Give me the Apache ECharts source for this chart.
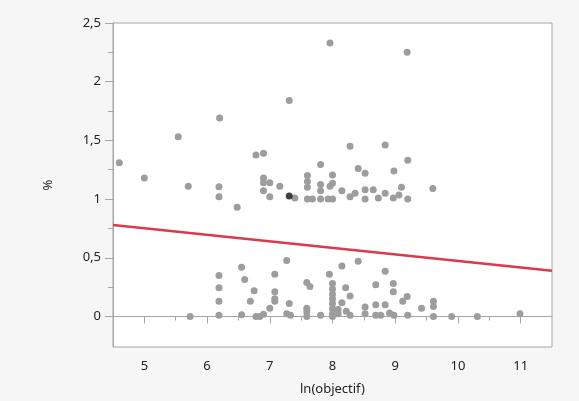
<!DOCTYPE html>
<html>
<head>
<meta charset="utf-8">
<script src="https://cdn.jsdelivr.net/npm/echarts@6/dist/echarts.min.js"></script>
<style>
html, body { margin: 0; padding: 0; background: #f6f6f6; }
#chart { width: 579px; height: 401px; }
</style>
</head>
<body>
<div id="chart"></div>
<script>
// gray points [ln(objectif), %]
var points = [
    [4.6,1.31],[5.0,1.18],[5.54,1.53],[5.70,1.11],[6.2,1.69],[6.19,1.105],[6.19,1.02],[6.48,0.93],
    [6.78,1.375],[6.9,1.39],[6.9,1.18],[6.9,1.14],[7.0,1.14],[6.9,1.07],[7.0,1.02],[7.16,1.11],
    [7.31,1.84],[7.4,1.01],
    [7.6,1.2],[7.6,1.15],[7.6,1.10],[7.6,1.0],[7.68,1.0],
    [7.81,1.295],[7.81,1.125],[7.81,1.07],[7.81,1.0],[7.93,1.0],[7.96,1.11],[8.0,1.205],[8.0,1.135],[8.0,1.0],
    [7.96,2.33],[8.15,1.07],[8.28,1.02],[8.36,1.05],[8.28,1.45],[8.41,1.26],[8.52,1.22],[8.52,1.08],[8.52,1.0],
    [8.65,1.08],[8.73,1.01],[8.84,1.05],[8.84,1.46],[8.98,1.24],[8.97,1.01],[9.06,1.035],[9.1,1.10],
    [9.2,1.0],[9.2,1.33],[9.19,2.25],[9.6,1.09],
    [5.73,0],[6.19,0.35],[6.19,0.245],[6.19,0.13],[6.19,0.01],[6.55,0.42],[6.6,0.315],[6.75,0.22],
    [6.69,0.13],[6.55,0.015],[6.78,0],[6.84,0],[6.9,0.02],[7.0,0.07],[7.08,0.36],[7.08,0.21],
    [7.08,0.15],[7.08,0.13],[7.27,0.476],[7.31,0.11],[7.27,0.024],[7.33,0.01],[7.59,0.29],[7.64,0.256],
    [7.59,0.07],[7.59,0.04],[7.59,0],
    [7.81,0.01],[7.95,0.36],[8.0,0.28],[8.0,0.235],[8.0,0.19],[8.0,0.15],[8.0,0.11],[8.0,0.066],
    [8.0,0.024],[8.0,0],
    [8.15,0.43],[8.41,0.47],[8.21,0.245],[8.28,0.174],[8.15,0.117],[8.09,0.06],[8.09,0.024],[8.22,0.044],
    [8.28,0.01],[8.52,0.08],[8.52,0.024],[8.69,0.27],[8.69,0.10],[8.69,0.01],[8.77,0.01],[8.84,0.385],
    [8.84,0.10],[8.91,0.03],[8.98,0.01],[8.97,0.28],[8.97,0.21],[9.12,0.13],[9.19,0.17],[9.2,0.01],
    [9.42,0.07],[9.61,0.13],[9.61,0.086],[9.61,0],[9.9,0],[10.31,0],[10.99,0.024]
];
// highlighted point
var selected = [[7.31,1.027]];

// fit line ends
var fitX = [4.5, 11.5];
var fitY = [0.78, 0.39];

var xTicks = [5, 6, 7, 8, 9, 10, 11];
var xMinor = [5.5, 6.5, 7.5, 8.5, 9.5, 10.5];
var yTicks = [0, 0.5, 1, 1.5, 2, 2.5];
var yMinor = [0.25, 0.75, 1.25, 1.75, 2.25];

var fitData = fitX.map(function (x, i) { return [x, fitY[i]]; });

var chart = echarts.init(document.getElementById('chart'));
var labelFont = { color: '#222', fontSize: 13, fontFamily: 'Noto Sans' };

chart.setOption({
    backgroundColor: '#f6f6f6',
    animation: false,
    grid: {
        left: 113, top: 23, right: 27, bottom: 51,
        show: true,
        backgroundColor: '#fff',
        borderColor: '#a6a6a6',
        borderWidth: 1
    },
    xAxis: [
        {
            type: 'value', min: 4.5, max: 11.5,
            name: 'ln(objectif)', nameLocation: 'middle', nameGap: 36,
            nameTextStyle: labelFont,
            axisLine: { show: true, lineStyle: { color: '#a6a6a6' } },
            axisTick: { show: true, length: 7, customValues: xTicks, lineStyle: { color: '#a6a6a6' } },
            axisLabel: Object.assign({ customValues: xTicks, margin: 13 }, labelFont),
            splitLine: { show: false }
        },
        {
            type: 'value', min: 4.5, max: 11.5, position: 'bottom',
            axisLine: { show: false },
            axisTick: { show: true, length: 4, customValues: xMinor, lineStyle: { color: '#a6a6a6' } },
            axisLabel: { show: false },
            splitLine: { show: false }
        }
    ],
    yAxis: [
        {
            type: 'value', min: -0.26, max: 2.5,
            name: '%', nameLocation: 'middle', nameGap: 58,
            nameTextStyle: labelFont,
            axisLine: { show: true, lineStyle: { color: '#a6a6a6' } },
            axisTick: { show: true, length: 8, customValues: yTicks, lineStyle: { color: '#a6a6a6' } },
            axisLabel: Object.assign({
                customValues: yTicks, margin: 12,
                formatter: function (v) { return String(v).replace('.', ','); }
            }, labelFont),
            splitLine: { show: false }
        },
        {
            type: 'value', min: -0.26, max: 2.5, position: 'left',
            axisLine: { show: false },
            axisTick: { show: true, length: 5, customValues: yMinor, lineStyle: { color: '#a6a6a6' } },
            axisLabel: { show: false },
            splitLine: { show: false }
        }
    ],
    series: [
        {
            type: 'scatter',
            data: points,
            symbolSize: 7,
            itemStyle: { color: '#9d9d9d', opacity: 1 }
        },
        {
            type: 'scatter',
            data: selected,
            symbolSize: 7,
            itemStyle: { color: '#111' }
        },
        {
            type: 'line',
            data: fitData,
            symbol: 'none',
            lineStyle: { color: '#d93a4c', width: 2.5 }
        }
    ]
});
</script>
</body>
</html>
